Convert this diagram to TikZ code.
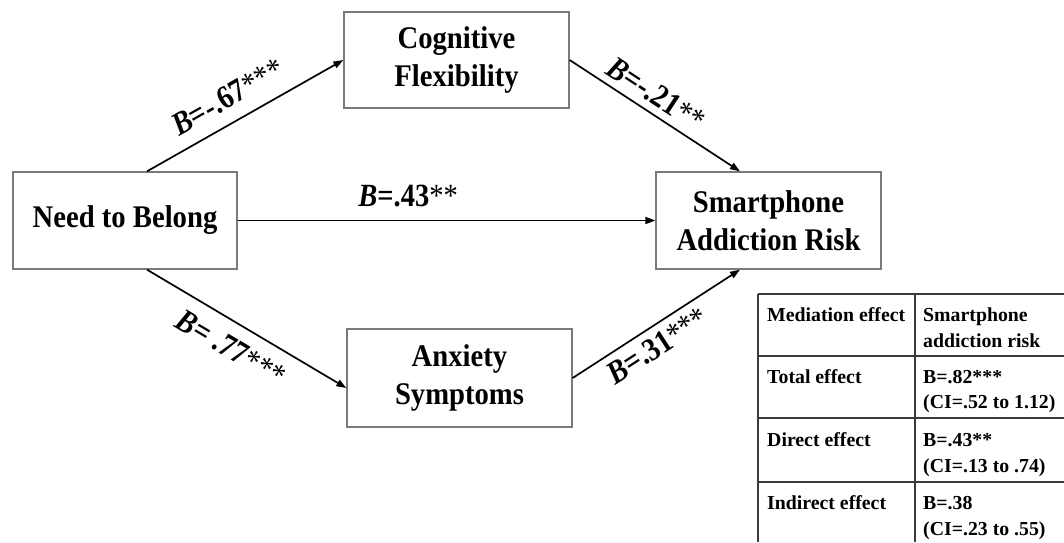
\documentclass[tikz,border=0pt]{standalone}
\usepackage{fontspec}
\setmainfont{Liberation Serif}
\newfontfamily\boxfont[FakeStretch=0.91]{Liberation Serif}
\newfontfamily\labfont[FakeStretch=0.88]{Liberation Serif}
\usetikzlibrary{arrows.meta}
\definecolor{boxgray}{HTML}{7A7A7A}
\definecolor{tablegray}{HTML}{3A3A3A}
\begin{document}
\begin{tikzpicture}[x=1pt,y=1pt,
  box/.style={draw=boxgray, line width=1.3pt, fill=white, minimum width=225pt, minimum height=97pt, align=center, font=\boxfont\fontsize{31.5}{38}\selectfont\bfseries, inner sep=0pt},
  arr/.style={line width=1.7pt, -{Triangle[length=10pt,width=7pt]}},
  lab/.style={font=\labfont\fontsize{32.4}{34}\selectfont\bfseries, inner sep=0pt},
  tb/.style={font=\fontsize{19.8}{24}\selectfont\bfseries, anchor=base west, inner sep=0pt},
  tline/.style={draw=tablegray, line width=1.3pt}]
\useasboundingbox (0,0) rectangle (1064,542);

% boxes
\node[box, minimum width=224pt] (ntb) at (125,321.5) {Need to Belong};
\node[box, minimum height=96pt] (cf) at (456.5,482) {Cognitive\\Flexibility};
\node[box] (sar) at (768.5,321.5) {Smartphone\\Addiction Risk};
\node[box, minimum height=98pt] (as) at (459.5,164) {Anxiety\\Symptoms};

% paths
\draw[arr] ([xshift=22pt]ntb.north) -- (cf.west)
  node[lab, sloped, pos=0.474, above=13pt] {\textit{B}=-.67\textmd{***}};
\draw[arr] (cf.east) -- ([xshift=-28.5pt]sar.north)
  node[lab, sloped, pos=0.448, above=7pt] {\textit{B}=-.21\textmd{**}};
\draw[arr] (ntb.east) -- (sar.west)
  node[lab, pos=0.408, above=12.5pt] {\textit{B}=.43\textmd{**}};
\draw[arr] ([xshift=22pt]ntb.south) -- ([yshift=-10pt]as.west)
  node[lab, sloped, pos=0.485, below=13pt] {\textit{B}= .77\textmd{***}};
\draw[arr] (as.east) -- ([xshift=-28.5pt]sar.south)
  node[lab, sloped, pos=0.446, below=7pt] {\textit{B}=.31\textmd{***}};

% table
\draw[tline] (758,248) -- (1064,248);
\draw[tline] (758,186) -- (1064,186);
\draw[tline] (758,124) -- (1064,124);
\draw[tline] (758,60) -- (1064,60);
\draw[tline] (758,248) -- (758,0);
\draw[tline] (915,248) -- (915,0);

\node[tb] (t11) at (767,221) {Mediation effect};
\node[tb] (t12a) at (923,221) {Smartphone};
\node[tb] (t12b) at (923,195) {addiction risk};
\node[tb] (t21) at (767,159) {Total effect};
\node[tb] (t22a) at (923,159) {B=.82***};
\node[tb] (t22b) at (923,134) {(CI=.52 to 1.12)};
\node[tb] (t31) at (767,96) {Direct effect};
\node[tb] (t32a) at (923,96) {B=.43**};
\node[tb] (t32b) at (923,70) {(CI=.13 to .74)};
\node[tb] (t41) at (767,33) {Indirect effect};
\node[tb] (t42a) at (923,33) {B=.38};
\node[tb] (t42b) at (923,7) {(CI=.23 to .55)};
\end{tikzpicture}
\end{document}
